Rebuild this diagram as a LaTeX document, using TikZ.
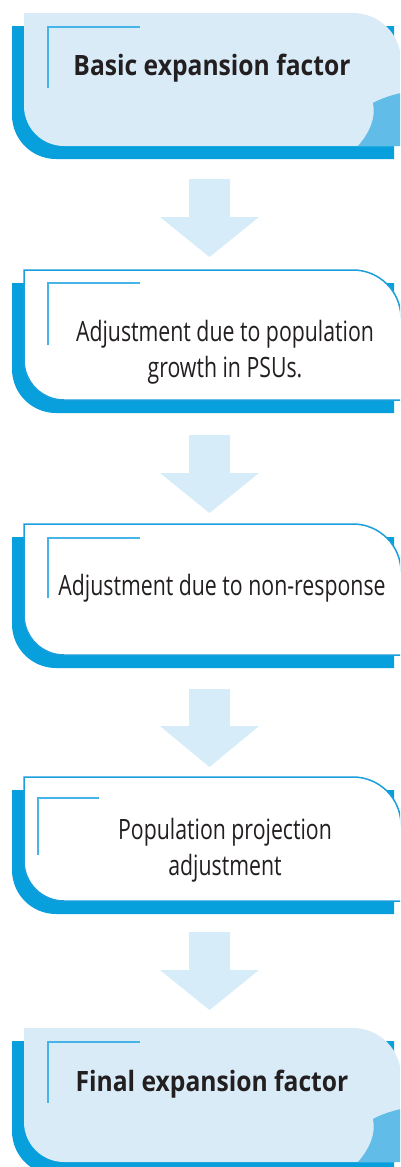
\documentclass[tikz,border=0pt]{standalone}
\usepackage{fontspec}
\setmainfont{Open Sans}[FakeStretch=0.76, BoldFeatures={FakeStretch=0.88}]
\definecolor{dblue}{RGB}{7,159,220}
\definecolor{lightfill}{RGB}{218,235,248}
\definecolor{arrowfill}{RGB}{214,236,248}
\definecolor{accent}{RGB}{70,180,230}
\definecolor{curlc}{RGB}{98,188,232}
\definecolor{outl}{RGB}{26,158,220}
\definecolor{textc}{RGB}{35,31,32}
\newcommand\shadowshape[2]{\fill[dblue] (12,#1+13) -- (12,#2+13-44) arc[start angle=180,end angle=90,radius=44] -- (394,#2+13) -- (394,#1+13) -- cycle;}
\newcommand\boxfill[3]{\path[#3] (24,#1) -- (353,#1) arc[start angle=270,end angle=360,radius=48] -- (401,#2) -- (64,#2) arc[start angle=90,end angle=180,radius=40] -- cycle;}
\newcommand\curlshape[1]{\fill[curlc] (358,#1) .. controls (370,#1-14) and (376,#1-28) .. (373,#1-43) .. controls (382,#1-48) and (392,#1-51) .. (401,#1-53) -- (401,#1) -- cycle;}
\newcommand\accentL[4]{\draw[accentline] (#3,#1) -- (#2,#1) -- (#2,#4);}
\newcommand\blockarrow[3]{\fill[arrowfill] (189,#1) -- (230,#1) -- (230,#2) -- (259,#2) -- (209.5,#3) -- (160,#2) -- (189,#2) -- cycle;}
\tikzset{
  accentline/.style={accent, line width=2pt},
  txt/.style={text=textc, inner sep=0pt, anchor=base, align=center, font=\fontsize{28}{36}\selectfont},
  btxt/.style={txt, font=\fontsize{28}{36}\selectfont\bfseries},
}
\begin{document}
\begin{tikzpicture}[x=1pt,y=-1pt]
\useasboundingbox (0,0) rectangle (400,1167);
\clip (0,0) rectangle (400,1167);
% box 1
\shadowshape{13}{146}
\boxfill{13}{146}{fill=lightfill}
\curlshape{146}
\accentL{27}{48}{140}{88}
\node[btxt] (n1) at (212,75) {Basic expansion factor};
% arrow 1
\blockarrow{179}{217}{257}
% box 2
\shadowshape{270}{400}
\boxfill{270}{400}{fill=white, draw=outl, line width=1.5pt}
\accentL{283}{48}{140}{345}
\node[txt] (n2) at (225,377) {Adjustment due to population\\growth in PSUs.};
% arrow 2
\blockarrow{435}{473}{513}
% box 3
\shadowshape{524}{655}
\boxfill{524}{655}{fill=white, draw=outl, line width=1.5pt}
\accentL{538}{48}{140}{598}
\node[txt] (n3) at (222,595) {Adjustment due to non-response};
% arrow 3
\blockarrow{689}{726}{767}
% box 4
\shadowshape{777}{901}
\boxfill{777}{901}{fill=white, draw=outl, line width=1.5pt}
\accentL{798}{38}{99}{855}
\node[txt] (n4) at (225,875) {Population projection\\adjustment};
% arrow 4
\blockarrow{932}{970}{1010}
% box 5
\shadowshape{1028}{1162}
\boxfill{1028}{1162}{fill=lightfill}
\curlshape{1162}
\accentL{1042}{48}{140}{1103}
\node[btxt] (n5) at (212,1091) {Final expansion factor};
\end{tikzpicture}
\end{document}
